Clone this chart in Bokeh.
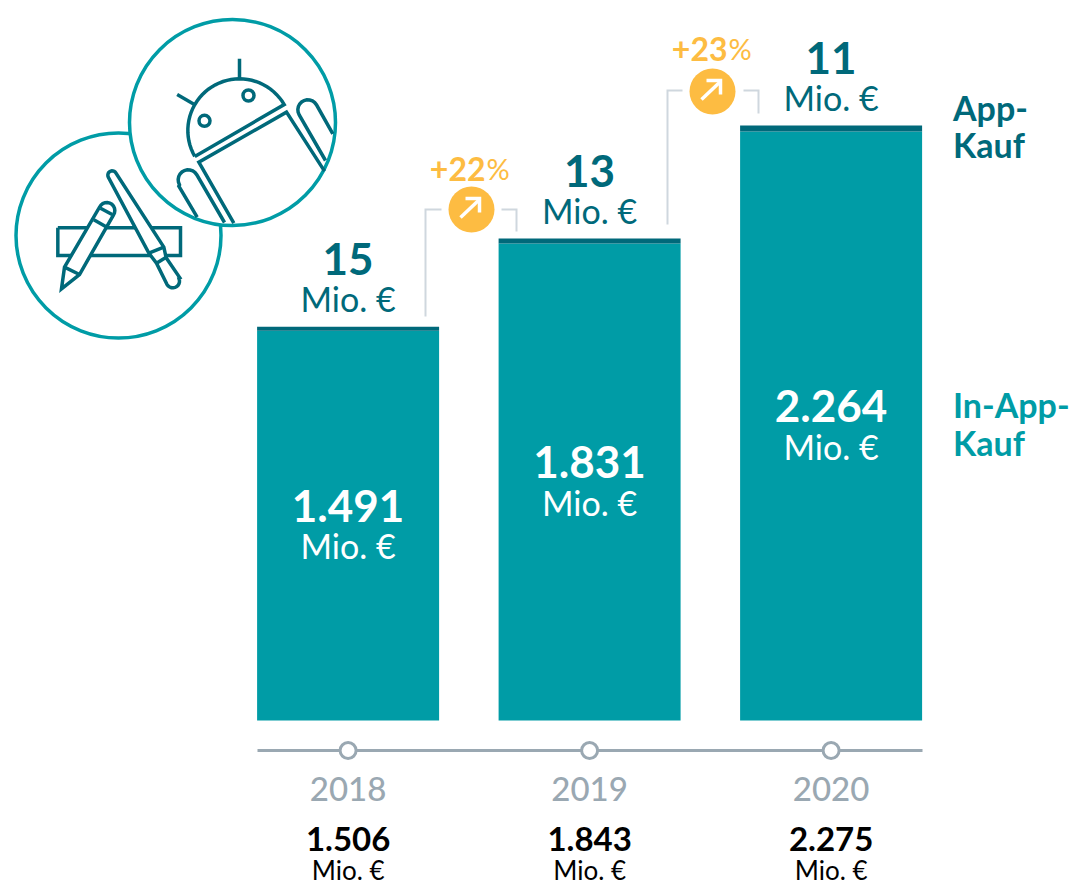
from bokeh.plotting import figure
from bokeh.models import Range1d, ColumnDataSource, LinearAxis, FixedTicker
from bokeh.core.properties import value
from bokeh.embed import file_html
from bokeh.resources import INLINE
import numpy as np

# ---- data
years = ["2018", "2019", "2020"]
totals = [1506, 1843, 2275]
app_band = [16, 19, 23]          # thickness of the dark band
in_app_labels = ["1.491", "1.831", "2.264"]
app_labels = ["15", "13", "11"]
total_labels = ["1.506", "1.843", "2.275"]
growth_labels = ["+22", "+23"]
unit = "Mio. €"

TEAL, DARK, ORANGE, GREY, LIGHT = "#009ca6", "#00697a", "#fdbc42", "#9aa8b2", "#cfd7de"
FONT = value("Lato")

# ---- scale: picture pixels <-> data
X0, XS, Y0, YS = 347.6, 241.5, 720.0, 0.2615
X = lambda px: (np.asarray(px, float) - X0) / XS
Y = lambda py: (Y0 - np.asarray(py, float)) / YS

W, H = 1075, 885
p = figure(width=W, height=H, output_backend="svg", toolbar_location=None,
           x_range=Range1d(float(X(0)), float(X(W))),
           y_range=Range1d(float(Y(H)), float(Y(0))),
           x_axis_location=None, y_axis_location=None,
           min_border=0, min_border_left=0, min_border_right=0, min_border_top=0, min_border_bottom=0,
           outline_line_color=None, background_fill_color="white", border_fill_color="white")
p.margin = (0, -16, -16, 0)
p.grid.visible = False

idx = [0, 1, 2]
inner = [t - b for t, b in zip(totals, app_band)]
src = ColumnDataSource(dict(x=idx, total=totals, inner=inner, mid=[v / 2 for v in inner],
                            inlab=in_app_labels, applab=app_labels, totlab=total_labels,
                            unit=[unit] * 3,
                            r1=[float(Y(838.5))] * 3, r2=[float(Y(869.5))] * 3))
BW = 182 / XS
p.vbar(x="x", bottom=0, top="inner", width=BW, fill_color=TEAL, line_color=None, source=src)
p.vbar(x="x", bottom="inner", top="total", width=BW, fill_color=DARK, line_color=None, source=src)

def txt(xf, yf, tf, size, color, bold=False, off=0, xoff=0):
    p.text(x=xf, y=yf, text=tf, source=src, text_font=FONT, text_font_size=f"{size}px",
           text_color=color, text_font_style="bold" if bold else "normal",
           text_align="center", text_baseline="middle", y_offset=off, x_offset=xoff)

txt("x", "mid", "inlab", 44, "white", True, -20)
txt("x", "mid", "unit", 34, "white", False, 20)
txt("x", "total", "applab", 44, DARK, True, -68)
txt("x", "total", "unit", 34, DARK, False, -28)
txt("x", "r1", "totlab", 33, "black", True)
txt("x", "r2", "unit", 26, "black", False)

# ---- time axis
ax = LinearAxis(ticker=FixedTicker(ticks=idx), fixed_location=float(Y(750)),
                bounds=(-BW / 2, 2 + BW / 2),
                major_label_overrides={i: y for i, y in zip(idx, years)},
                major_tick_line_color=None, minor_tick_line_color=None,
                axis_line_color=GREY, axis_line_width=3,
                major_label_text_font="Lato Medium", major_label_text_font_size="33px",
                major_label_text_color=GREY, major_label_standoff=20)
ax.level = "underlay"
p.add_layout(ax, "below")
p.scatter(x="x", y=float(Y(750)), size=16, fill_color="white", line_color=GREY, line_width=3, source=src)

# ---- growth connectors
def poly(pts, color=LIGHT, w=2, fill=None):
    xs = X([a for a, _ in pts]); ys = Y([b for _, b in pts])
    if fill:
        p.patch(xs, ys, fill_color=fill, line_color=color, line_width=w, line_join="miter")
    else:
        p.line(xs, ys, line_color=color, line_width=w, line_join="miter", line_cap="butt")

poly([(425, 316), (425, 209), (441, 209)])
poly([(501, 209), (516, 209), (516, 231)])
poly([(667, 224), (667, 90), (682, 90)])
poly([(743, 90), (758, 90), (758, 113)])

for (cx, cy), lab, lx, pct_x, ly in zip([(471, 209), (712, 91)], growth_labels, [485, 727], [486, 728], [168, 48]):
    p.scatter(x=[float(X(cx))], y=[float(Y(cy))], size=46, fill_color=ORANGE, line_color=None)
    poly([(cx - 11, cy + 8), (cx + 8, cy - 10)], "white", 3.5)
    poly([(cx - 6, cy - 11), (cx + 8, cy - 11), (cx + 8, cy + 3)], "white", 3.5)
    p.text(x=[float(X(lx))], y=[float(Y(ly))], text=[lab], text_font=FONT, text_font_style="bold",
           text_font_size="32px", text_color=ORANGE, text_align="right", text_baseline="middle")
    p.text(x=[float(X(pct_x))], y=[float(Y(ly))], text=["%"], text_font=FONT, text_font_size="29px",
           text_color=ORANGE, text_align="left", text_baseline="middle")

# ---- right-hand legend
for ln, py, col in [("App-", 107, DARK), ("Kauf", 144, DARK), ("In-App-", 404, TEAL), ("Kauf", 442, TEAL)]:
    p.text(x=[float(X(952.5))], y=[float(Y(py))], text=[ln], text_font=FONT, text_font_size="34px",
           text_font_style="bold", text_color=col, text_align="left", text_baseline="middle")

# ---- icons (coordinates in a 3x sketch space, offset y 40)
z = lambda pts: [(a / 3, b / 3 + 40) for a, b in pts]
def icon_circle(cx, cy, r):
    p.scatter(x=[float(X(cx))], y=[float(Y(cy))], size=2 * r, fill_color="white", line_color=TEAL, line_width=3.5)

icon_circle(118, 235, 102.5)
poly(z([(172, 562), (540, 562), (540, 645), (172, 645), (172, 562)]), DARK, 3.5)

def cap(cx, cy, r, a0, a1):
    return [(cx + r * np.cos(t), cy + r * np.sin(t)) for t in np.linspace(a0, a1, 12)]

pencil = [(183, 745), (192, 680), (297, 500)] + cap(319, 510, 24, np.radians(-155), np.radians(35)) + [(237, 702)]
poly(z(pencil), DARK, 3.5, "white")
poly(z([(192, 680), (237, 702)]), DARK, 3.5)
poly(z([(280, 538), (322, 562)]), DARK, 3.5)
poly(z([(300, 503), (335, 522)]), DARK, 3.5)
brush = cap(335, 404, 13, np.radians(-205), np.radians(-30)) + [(490, 620), (497, 652), (538, 712)] + \
    cap(517, 722, 20, np.radians(-25), np.radians(150)) + [(468, 668), (445, 638)]
poly(z(brush), DARK, 3.5, "white")
poly(z([(445, 638), (490, 620)]), DARK, 3.5)
poly(z([(468, 668), (497, 650)]), DARK, 3.5)

icon_circle(232, 122, 103)
t0 = np.arctan2(348 - 192, 583 - 852)
dome = [(717 + 155 * np.cos(t), 270 + 155 * np.sin(t)) for t in np.linspace(t0, t0 + np.pi, 40)]
poly(z(dome + [dome[0]]), DARK, 3.5)
poly(z([(717, 55), (717, 115)]), DARK, 3.5)
poly(z([(530, 162), (583, 193)]), DARK, 3.5)
for ex, ey in z([(612, 241), (744, 165)]):
    p.scatter(x=[float(X(ex))], y=[float(Y(ey))], size=11, fill_color="white", line_color=DARK, line_width=3.5)
poly(z([(700, 548), (595, 365), (858, 215), (972, 392)]), DARK, 3.5)
poly(z([(975, 360), (897, 225)] + cap(922, 208, 30, np.radians(-210), np.radians(-30)) + [(997, 280)]), DARK, 3.5)
poly(z([(590, 530), (535, 437)] + cap(563, 418, 30, np.radians(-210), np.radians(-30)) + [(672, 546)]), DARK, 3.5)

open("out.html", "w").write(file_html(p, INLINE))
